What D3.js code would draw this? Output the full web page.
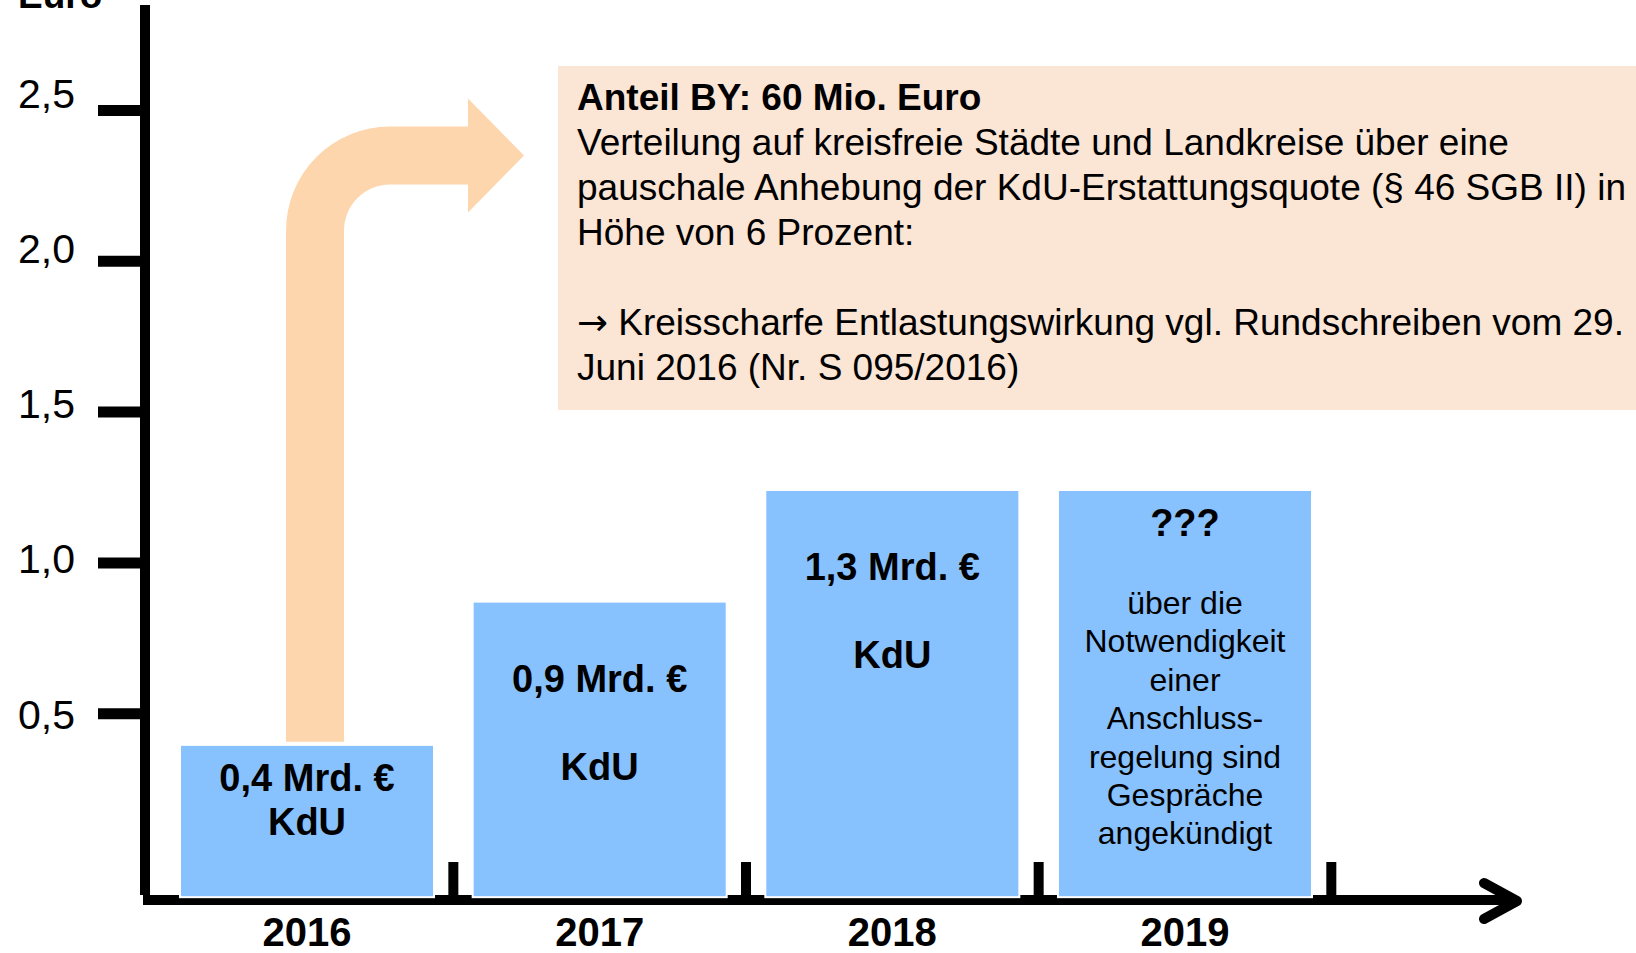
<!-- KdU-Entlastung 2016-2019: Balken mit Notiz und Knickpfeil -->

<!DOCTYPE html>
<html>
<head>
	<title>KdU Entlastung</title>
	<meta charset='utf-8'>
	<style>
		body {
			margin: 0;
			background: #fff;
		}

		svg {
			display: block;
			font-family: 'Liberation Sans', Arial, sans-serif;
		}

		.bar {
			fill: #87c1fe;
			stroke: #fff;
			stroke-width: 2px;
		}

		.axis-line {
			stroke: #000;
			stroke-width: 10px;
			fill: none;
		}

		.axis path.domain {
			display: none;
		}

		.axis line {
			stroke: #000;
			stroke-width: 11px;
		}

		.axis text {
			fill: #000;
		}

		.axis__y text {
			font-size: 41px;
		}

		.axis__x text {
			font-size: 40px;
			font-weight: bold;
		}

		.note-box {
			fill: #fbe5d5;
		}

		.note {
			font-size: 37px;
			fill: #000;
		}

		.note .arrow {
			font-family: 'DejaVu Sans', sans-serif;
		}

		.bend {
			fill: #fed6ad;
		}

		.bar-label {
			font-size: 38px;
			font-weight: bold;
			text-anchor: middle;
		}

		.bar-note {
			font-size: 32px;
			text-anchor: middle;
		}
	</style>
</head>
<body>

<script src='https://d3js.org/d3.v7.min.js'></script>
<script>
	'use strict';

	const years = ['2016', '2017', '2018', '2019'];
	const values = [0.395, 0.87, 1.24, 1.24];
	const amountLabels = ['0,4 Mrd. €', '0,9 Mrd. €', '1,3 Mrd. €', '???'];
	const kindLabels = ['KdU', 'KdU', 'KdU', ''];
	const leadLines = [0, 1, 1, 0]; // leere Zeilen über dem Betrag
	const note2019 = ['über die', 'Notwendigkeit', 'einer', 'Anschluss-', 'regelung sind', 'Gespräche', 'angekündigt'];
	const yTicks = [0.5, 1.0, 1.5, 2.0, 2.5];
	const yTitle = 'Euro';
	const noteTitle = 'Anteil BY: 60 Mio. Euro';
	const noteLines = [
		'Verteilung auf kreisfreie Städte und Landkreise über eine',
		'pauschale Anhebung der KdU-Erstattungsquote (§ 46 SGB II) in',
		'Höhe von 6 Prozent:',
		'',
		' Kreisscharfe Entlastungswirkung vgl. Rundschreiben vom 29.',
		'Juni 2016 (Nr. S 095/2016)'
	];
	const arrowLine = 4; // Zeile mit Pfeil davor

	const width = 1636;
	const height = 953;
	const axisX = 145;
	const axisY = 900;

	const xScale = d3.scaleBand().domain(years).range([180, 1312]).paddingInner(0.132);
	const yScale = d3.scaleLinear().domain([0, 2.5]).range([864, 110]);
	// Beschriftungen der y-Achse stehen etwas weiter auseinander als die Striche
	const yLabelScale = d3.scaleLinear().domain([0.5, 2.5]).range([713.5, 92.5]);
	const baseValue = -0.11; // Balken stehen auf der x-Achse, etwas unter 0

	const de = d3.formatLocale({decimal: ',', thousands: '.', grouping: [3], currency: ['', ' €']});

	const svg = d3.select('body').append('svg')
		.attr('width', width)
		.attr('height', height);

	// Notizkasten
	svg.append('rect')
		.attr('class', 'note-box')
		.attr('x', 558)
		.attr('y', 66)
		.attr('width', width - 558)
		.attr('height', 344);

	const note = svg.append('text')
		.attr('class', 'note')
		.attr('x', 577)
		.attr('y', 110);

	note.append('tspan')
		.attr('font-weight', 'bold')
		.text(noteTitle);

	note.selectAll('tspan.line')
		.data(noteLines)
		.enter()
		.append('tspan')
		.attr('class', 'line')
		.attr('x', 577)
		.attr('y', function(d, i) {return 155 + i * 45;})
		.each(function(d, i) {
			const t = d3.select(this);
			if (i === arrowLine) {
				t.append('tspan').attr('class', 'arrow').text('→');
			}
			t.append('tspan').text(d);
		});

	// Knickpfeil vom 2016er Balken zum Kasten
	const cx = xScale('2016') + xScale.bandwidth() / 2 + 8;
	const bottom = yScale(values[0]) - 3;
	const half = 29;
	const rOut = 104;
	const rIn = 46;
	const midY = 155.5;
	const cornerX = cx + 75;
	const cornerY = midY + 75;
	const shaftEnd = 468;
	const tipX = 524;

	svg.append('path')
		.attr('class', 'bend')
		.attr('d', [
			'M', cx - half, bottom,
			'L', cx - half, cornerY,
			'A', rOut, rOut, 0, 0, 1, cornerX, cornerY - rOut,
			'L', shaftEnd, midY - half,
			'L', shaftEnd, midY - 57,
			'L', tipX, midY,
			'L', shaftEnd, midY + 57,
			'L', shaftEnd, midY + half,
			'L', cornerX, midY + half,
			'A', rIn, rIn, 0, 0, 0, cx + half, cornerY,
			'L', cx + half, bottom,
			'Z'
		].join(' '));

	// y-Achse
	svg.append('line')
		.attr('class', 'axis-line')
		.attr('x1', axisX).attr('x2', axisX)
		.attr('y1', 5).attr('y2', axisY - 5);

	svg.append('g')
		.attr('class', 'axis axis__y')
		.attr('transform', 'translate(' + axisX + ',0)')
		.call(d3.axisLeft(yScale)
			.tickValues(yTicks)
			.tickSize(47)
			.tickPadding(23)
			.tickFormat(de.format('.1f'))
		)
		.selectAll('text')
		.attr('dy', function(d) {return (yLabelScale(d) - yScale(d) + 14.7) + 'px';});

	svg.append('text')
		.attr('x', 18)
		.attr('y', 8)
		.attr('font-size', 37)
		.attr('font-weight', 'bold')
		.text(yTitle);

	// x-Achse mit Pfeilspitze
	svg.append('line')
		.attr('class', 'axis-line')
		.attr('x1', axisX - 2).attr('x2', 1516)
		.attr('y1', axisY).attr('y2', axisY);

	svg.append('path')
		.attr('class', 'axis-line')
		.attr('stroke-width', 11)
		.attr('stroke-linecap', 'round')
		.attr('stroke-linejoin', 'round')
		.attr('d', 'M1484,883 L1517,901 L1484,919');

	svg.selectAll('.sep')
		.data(years)
		.enter()
		.append('line')
		.attr('class', 'sep axis-line')
		.attr('x1', function(d) {return xScale(d) + xScale.bandwidth() + xScale.step() * xScale.paddingInner() / 2;})
		.attr('x2', function(d) {return xScale(d) + xScale.bandwidth() + xScale.step() * xScale.paddingInner() / 2;})
		.attr('y1', 862)
		.attr('y2', axisY - 3);

	svg.append('g')
		.attr('class', 'axis axis__x')
		.attr('transform', 'translate(0,' + axisY + ')')
		.call(d3.axisBottom(xScale).tickSize(0))
		.selectAll('text')
		.attr('y', 46)
		.attr('dy', 0);

	svg.selectAll('.axis__x line').remove();

	// Balken
	svg.selectAll('.bar')
		.data(years)
		.enter()
		.append('rect')
		.attr('class', 'bar')
		.attr('x', function(d) {return xScale(d);})
		.attr('width', xScale.bandwidth())
		.attr('y', function(d, i) {return yScale(values[i]);})
		.attr('height', function(d, i) {return yScale(baseValue) - yScale(values[i]);});

	svg.selectAll('.amount')
		.data(years)
		.enter()
		.append('text')
		.attr('class', 'bar-label amount')
		.attr('x', function(d) {return xScale(d) + xScale.bandwidth() / 2;})
		.attr('y', function(d, i) {return yScale(values[i]) + 46 + leadLines[i] * 44;})
		.text(function(d, i) {return amountLabels[i];});

	svg.selectAll('.kind')
		.data(years)
		.enter()
		.append('text')
		.attr('class', 'bar-label kind')
		.attr('x', function(d) {return xScale(d) + xScale.bandwidth() / 2;})
		.attr('y', function(d, i) {return yScale(values[i]) + 46 + (1 + 2 * leadLines[i]) * 44;})
		.text(function(d, i) {return kindLabels[i];});

	svg.selectAll('.bar-note')
		.data(note2019)
		.enter()
		.append('text')
		.attr('class', 'bar-note')
		.attr('x', xScale('2019') + xScale.bandwidth() / 2)
		.attr('y', function(d, i) {return yScale(values[3]) + 124 + i * 38.4;})
		.text(function(d) {return d;});

</script>
</body>
</html>
